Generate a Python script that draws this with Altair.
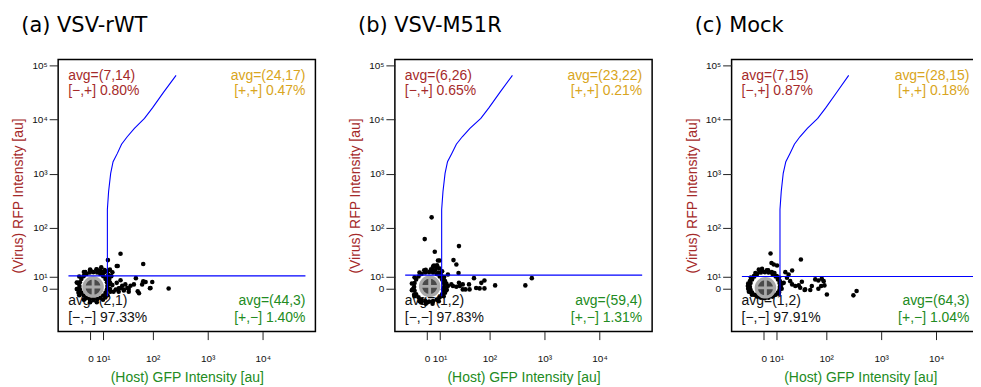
import math
import altair as alt
import pandas as pd

# ---------------- data (au = arbitrary intensity units) ----------------
A_TITLE = "(a) VSV-rWT"
B_TITLE = "(b) VSV-M51R"
C_TITLE = "(c) Mock"

# panel (a) cells: GFP (x) and RFP (y)
a_gfp = [13.1, 12.8, 11.8, 10.3, 8.4, 6.4, 3.9, -1.7, -4.6, -6.5, -7.9, -8.8, -9.1, -8.8, -7.9, -6.5, -4.6, -1.7, 3.9, 6.4, 8.4, 10.3, 11.8, 12.8,
         15.1, 13.2, 10.1, 6.2, -1.2, -6.3, -9.2, -10.8, -10.8, -9.2, -6.3, -1.2, 6.2, 10.1, 13.2, 15.1,
         14.5, 13.8, 11, 8.4, 6, 0, -5.3, 15.3, 15.3, -9.7, -10.3, 11.7, -5.3, 16.1, 13.1,
         3.9, 0, 6,
         25, 13.5, 67, 22, 15, 17, 49, 98, 74, 91, 195, 53, 34, 27, 20, 29, 39, 67, 64, 89, 36, 23, 9, 21, 45, 56, 25, 29,
         9.3, 11.2, 7.4, 17, 21, 23, 18, 31, 36, 25, 14]
a_rfp = [3.9, 6.4, 8.4, 10.3, 11.8, 12.8, 13.1, 12.8, 11.8, 10.3, 8.4, 6.4, 3.9, -1.7, -4.6, -6.5, -7.9, -8.8, -9.1, -8.8, -7.9, -6.5, -4.6, -1.7,
         6.2, 10.1, 13.2, 15.1, 15.1, 13.2, 10.1, 6.2, -1.2, -6.3, -9.2, -10.8, -10.8, -9.2, -6.3, -1.2,
         8.4, 11, 13.1, 14.5, 15.3, 14.5, 13.1, 5.3, -3.9, -4.6, 6, -7.8, -8.4, 10.3, 13.8,
         3.9, 0, 6,
         32, 24, 20, 18, 15, 13, 9, 6.5, 6.5, 2, 1, -3.5, 2, 4, -2, -2, 4, 7, 5, 1.5, -1, -4, 17, 18, 5, -5, 2, -3,
         13.1, 14.6, 13.8, 4.5, 6, 1.5, -4, 5, -4, 7.7, 7]
a_mean = [3.7, 3.0]
a_gate_gfp = [-17, 59600, 13.1, 13.1, 14, 15.6, 17.6, 21.6, 26.2, 33.7, 46, 70.6, 99, 157, 266]
a_gate_rfp = [10.5, 10.5, -6.9, 217, 466, 1012, 1660, 2365, 3490, 4800, 6880, 10500, 16400, 31700, 65700]
a_text = ["avg=(7,14)", "[\u2212,+] 0.80%", "avg=(24,17)", "[+,+] 0.47%",
          "avg=(2,1)", "[\u2212,\u2212] 97.33%", "avg=(44,3)", "[+,\u2212] 1.40%"]

# panel (b)
b_gfp = [13.1, 12.8, 11.7, 10.1, 8.2, 5.9, 3.1, -3.1, -5.7, -7.6, -9.1, -10.1, -10.4, -10.1, -9.1, -7.6, -5.7, -3.1, 3.1, 5.9, 8.2, 10.1, 11.7, 12.8,
         14.8, 12.8, 9.5, 5.6, -2.6, -7, -10.1, -11.9, -11.9, -10.1, -7, -2.6, 5.6, 9.5, 12.8, 14.8,
         4.6, 7.2, 9.7, 11.7, 6, 8.4, -3.9, -11, -10.4, -6, 13.8, 13.8, 0, 11, 13.1,
         3.6, 0, 6,
         -3.5, 5, 27, 7, 9, 10, 21, 24, 6.5, 8, 26.5, 52, 81, 71, 127, 590, 450, 81, 57, 43, 32, 28, 24, 20.5, 16, 36, 15, 12.3,
         19, 32, 42, 66, 27, 16]
b_rfp = [3.1, 5.9, 8.2, 10.1, 11.7, 12.8, 13.1, 12.8, 11.7, 10.1, 8.2, 5.9, 3.1, -3.1, -5.7, -7.6, -9.1, -10.1, -10.4, -10.1, -9.1, -7.6, -5.7, -3.1,
         5.6, 9.5, 12.8, 14.8, 14.8, 12.8, 9.5, 5.6, -2.6, -7, -10.1, -11.9, -11.9, -10.1, -7, -2.6,
         15.3, 14.5, 16.1, 13.8, 17.9, 18.8, 14.5, 0, -6, -11, 7.2, -4.6, -11, 11, 9.7,
         3.6, 0, 5,
         61, 155, 45, 35, 23.5, 23.5, 24, 19.5, 18.5, 16.5, 12.5, 9, 7.5, 6, 4.3, 9, 4.3, 1.4, 2, -1.7, 5, 3.8, 3.2, 3.8, 3.8, -1.7, -1.7, -1.7,
         5, -1.7, 5, 1.4, 6, 11.4]
b_mean = [3.6, 3.6]
b_gate_gfp = [-17, 59600, 11.4, 11.4, 12.3, 13.8, 15.7, 19.4, 24, 31.3, 43.7, 69.5, 97.5, 155, 262]
b_gate_rfp = [11, 11, -6.9, 217, 466, 1012, 1660, 2365, 3490, 4800, 6880, 10500, 16400, 31700, 65700]
b_text = ["avg=(6,26)", "[\u2212,+] 0.65%", "avg=(23,22)", "[+,+] 0.21%",
          "avg=(1,2)", "[\u2212,\u2212] 97.83%", "avg=(59,4)", "[+,\u2212] 1.31%"]

# panel (c)
c_gfp = [12.4, 12.2, 11.1, 9.6, 7.6, 5.1, 2.2, -3.9, -6.4, -8.2, -9.6, -10.6, -11, -10.6, -9.6, -8.2, -6.4, -3.9, 2.2, 5.1, 7.6, 9.6, 11.1, 12.2,
         13.7, 11.8, 8.8, 4.9, -3.4, -7.5, -10.4, -12.2, -12.2, -10.4, -7.5, -3.4, 4.9, 8.8, 11.8, 13.7,
         -12.4, -11.7, -11, -8.4, -4.6, 3.9, 7.2, 10.3, 12.4, 13.1, 11.7, -9.7, 0,
         2.8, 0, 5,
         6.4, 34, 7, 8.4, 10.5, -5.4, -3, 23, 16.6, 19.5, 35.5, 63, 72, 83, 90, 54.5, 72, 93, 81, 103, 51, 40, 33, 358, 313,
         23, 26.6, 31, 18, 15.3, 21, 41]
c_rfp = [3.1, 5.9, 8.2, 10.1, 11.7, 12.8, 13.1, 12.8, 11.7, 10.1, 8.2, 5.9, 3.1, -2.2, -4.6, -6.0, -7.2, -7.9, -8.2, -7.9, -7.2, -6.0, -4.6, -2.2,
         5.5, 9.4, 12.5, 14.4, 14.4, 12.5, 9.4, 5.5, 0, -4.4, -6.2, -7.1, -7.1, -6.2, -4.4, 0,
         3.9, -3.9, 7.2, 10.3, 13.8, 14.5, 13.1, 10.3, 7.2, 3.1, -5.3, -6, -7.8,
         2.2, 0, 4,
         32.4, 24.6, 21, 19.5, 18.5, 15, 15.6, 14.3, 13.1, 11.4, 6.7, 8.2, 7.5, 8.6, 7.1, 3.8, 0, 4.3, 3.8, -5.8, -2.5, -2.5, 2.2, -3.4, -6.4,
         5, 3.8, 4.3, 9.2, 6, 7.1, -1.7]
c_mean = [2.8, 2.2]
c_gate_gfp = [-17, 59600, 12.5, 12.5, 13.4, 14.9, 17, 20.8, 25.5, 32.6, 45, 70, 98, 155, 257]
c_gate_rfp = [10.1, 10.1, -6.9, 217, 466, 1012, 1660, 2365, 3490, 4800, 6880, 10500, 16400, 31700, 65700]
c_text = ["avg=(7,15)", "[\u2212,+] 0.87%", "avg=(28,15)", "[+,+] 0.18%",
          "avg=(1,2)", "[\u2212,\u2212] 97.91%", "avg=(64,3)", "[+,\u2212] 1.04%"]

gate_seg = ["h", "h"] + ["c"] * 13
tick_au_x = [0, 10, 100, 1000, 10000]
tick_au_y = [0, 10, 100, 1000, 10000, 100000]

# ---------------- display transform (biexponential-like) ----------------
CF = 7.4


def tf(v):
    return math.copysign(0.5 * math.log10(1 + (v / CF) ** 2), v) if v != 0 else 0.0


def expr(f):
    return f"(datum.{f} < 0 ? -1 : 1) * 0.5 * log(1 + pow(datum.{f} / {CF}, 2)) / LN10"


LABEL_EXPR = ("datum.value < 0.1 ? '0' : datum.value < 0.6 ? '10\u00b9' : datum.value < 1.6 ? '10\u00b2' : "
              "datum.value < 2.6 ? '10\u00b3' : datum.value < 3.6 ? '10\u2074' : '10\u2075'")

W, H = 258, 273
FONT = "Liberation Sans"
RED, GOLD, GREEN = "#A52A2A", "#D9A521", "#228B22"

xscale = alt.Scale(domain=[-0.586, 4.087], nice=False, zero=False)
yscale = alt.Scale(domain=[-0.792, 4.243], nice=False, zero=False)
xaxis = alt.Axis(values=[tf(v) for v in tick_au_x], labelExpr=LABEL_EXPR, tickSize=8, tickColor="#222222",
                 labelFont=FONT, labelFontSize=10, labelColor="#111111", labelPadding=14, domain=False, grid=False,
                 labelOverlap=False, titleFont=FONT, titleFontSize=14, titleFontWeight="normal", titleColor=GREEN,
                 titlePadding=7)
yaxis = alt.Axis(values=[tf(v) for v in tick_au_y], labelExpr=LABEL_EXPR, tickSize=9, tickColor="#222222",
                 labelFont=FONT, labelFontSize=10, labelColor="#111111", labelPadding=2, domain=False, grid=False,
                 labelOverlap=False, titleFont=FONT, titleFontSize=14, titleFontWeight="normal", titleColor=RED,
                 titlePadding=6)
X = alt.X("tx:Q", scale=xscale, axis=xaxis, title="(Host) GFP Intensity [au]")
Y = alt.Y("ty:Q", scale=yscale, axis=yaxis, title="(Virus) RFP Intensity [au]")


def with_tf(ch):
    return ch.transform_calculate(tx=expr("gfp"), ty=expr("rfp"))


def corner_text(label, x, y, align, color):
    return alt.Chart(pd.DataFrame({"t": [label]})).mark_text(
        align=align, baseline="middle", font=FONT, fontSize=14, color=color
    ).encode(x=alt.value(x), y=alt.value(y), text="t:N")


def panel(title, gfp, rfp, mean, ggfp, grfp, texts, right_inset=10):
    pts = pd.DataFrame({"gfp": gfp, "rfp": rfp})
    mn = pd.DataFrame({"gfp": [mean[0]], "rfp": [mean[1]]})
    gate = pd.DataFrame({"gfp": ggfp, "rfp": grfp, "seg": gate_seg, "ord": list(range(len(ggfp)))})
    rx = W - right_inset
    tl = [corner_text(texts[0], 10, 17, "left", RED), corner_text(texts[1], 10, 32, "left", RED)]
    tr = [corner_text(texts[2], rx, 17, "right", GOLD), corner_text(texts[3], rx, 32, "right", GOLD)]
    bl = [corner_text(texts[4], 10, H - 31, "left", "#111111"), corner_text(texts[5], 10, H - 14, "left", "#111111")]
    br = [corner_text(texts[6], rx, H - 31, "right", GREEN), corner_text(texts[7], rx, H - 14, "right", GREEN)]
    dots = with_tf(alt.Chart(pts)).mark_circle(size=21, color="black", opacity=1).encode(x=X, y=Y)
    ring = with_tf(alt.Chart(mn)).mark_point(shape="circle", size=340, filled=True, fill="#4a4a4a",
                                             stroke="#a9a9a9", strokeWidth=3.2, opacity=1).encode(x=X, y=Y)
    cross = with_tf(alt.Chart(mn)).mark_point(shape="M-1,0L1,0M0,-1L0,1", size=300, filled=False,
                                              stroke="#a9a9a9", strokeWidth=2.8, opacity=1).encode(x=X, y=Y)
    lines = with_tf(alt.Chart(gate)).mark_line(color="#0000ff", strokeWidth=1.1).encode(
        x=X, y=Y, detail="seg:N", order="ord:Q")
    return alt.layer(*tl, *tr, *bl, *br, dots, ring, cross, lines).properties(
        width=W, height=H,
        title=alt.TitleParams(title, anchor="start", frame="group", dx=-37, fontSize=21, font="DejaVu Sans",
                              fontWeight="normal", color="black", baseline="alphabetic", offset=6))


chart = alt.hconcat(
    panel(A_TITLE, a_gfp, a_rfp, a_mean, a_gate_gfp, a_gate_rfp, a_text),
    panel(B_TITLE, b_gfp, b_rfp, b_mean, b_gate_gfp, b_gate_rfp, b_text),
    panel(C_TITLE, c_gfp, c_rfp, c_mean, c_gate_gfp, c_gate_rfp, c_text, right_inset=19.5),
    spacing=79.7, bounds="flush",
).properties(
    padding={"left": 2.3, "top": 6, "right": -17.5, "bottom": 0},
    background="white",
).configure_view(stroke="black", strokeWidth=1.5)

chart.save("out.html", embed_options={"renderer": "svg", "actions": False})
